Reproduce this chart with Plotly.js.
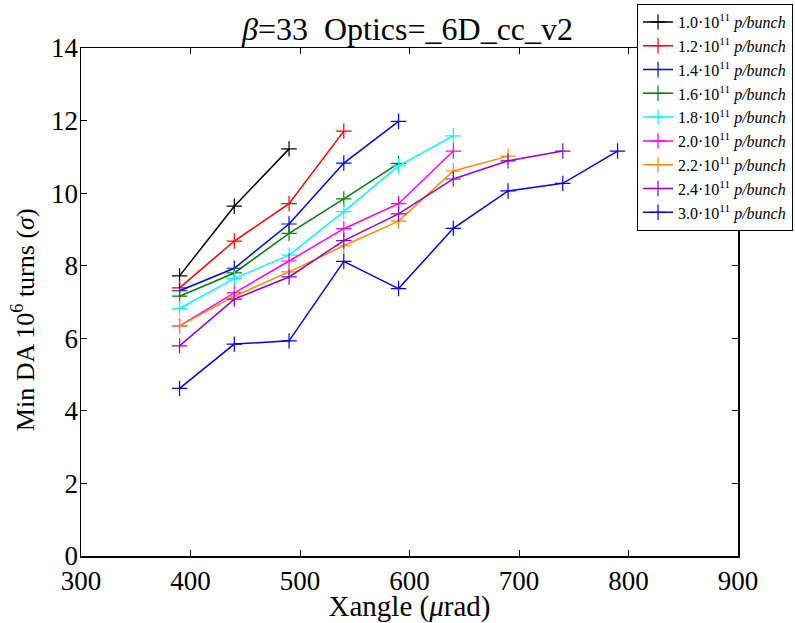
<!DOCTYPE html>
<html>
<head>
<meta charset="utf-8">
<script src="https://cdn.plot.ly/plotly-3.0.1.min.js"></script>
<style>html,body{margin:0;padding:0;background:#fff;} #chart{width:795px;height:623px;}</style>
</head>
<body>
<div id="chart"></div>
<script>
// x angle values (µrad)
const xangle = [390, 440, 490, 540, 590, 640, 690, 740, 790];
// bunch intensities (legend labels)
const intensities = ["1.0", "1.2", "1.4", "1.6", "1.8", "2.0", "2.2", "2.4", "3.0"];
// Min DA for each intensity
const da10 = [7.72, 9.64, 11.22];
const da12 = [7.39, 8.68, 9.71, 11.71];
const da14 = [7.31, 7.93, 9.15, 10.83, 11.98];
const da16 = [7.16, 7.80, 8.89, 9.84, 10.82];
const da18 = [6.82, 7.65, 8.29, 9.49, 10.75, 11.58];
const da20 = [6.34, 7.25, 8.13, 9.02, 9.71, 11.16];
const da22 = [6.34, 7.16, 7.83, 8.55, 9.23, 10.61, 11.02];
const da24 = [5.79, 7.08, 7.69, 8.69, 9.43, 10.39, 10.89, 11.16];
const da30 = [4.62, 5.84, 5.93, 8.12, 7.37, 9.03, 10.06, 10.27, 11.16];
const xTicks = [300, 400, 500, 600, 700, 800, 900];
const yTicks = [0, 2, 4, 6, 8, 10, 12, 14];

const series = [da10, da12, da14, da16, da18, da20, da22, da24, da30];
const colors = ["#000000", "#ff0000", "#0000ff", "#008000", "#00ffff", "#ff00ff", "#ff8c00", "#9400d3", "#0000ff"];

const traces = series.map((ys, i) => ({
  x: xangle.slice(0, ys.length),
  y: ys,
  type: "scatter",
  mode: "lines+markers",
  name: intensities[i] + "·10<sup>11</sup> <i>p/bunch</i>",
  line: {color: colors[i], width: 1.5},
  marker: {symbol: "cross-thin", size: 11, color: colors[i], line: {color: colors[i], width: 1.2}}
}));

const serif = "Liberation Serif, Times New Roman, serif";
const axisCommon = {
  showline: true, linecolor: "#000", linewidth: 1.5, mirror: "ticks",
  ticks: "inside", ticklen: 6, tickwidth: 1, tickcolor: "#000",
  showgrid: false, zeroline: false,
  tickfont: {family: serif, size: 27, color: "#000"}
};

const layout = {
  width: 795, height: 623,
  paper_bgcolor: "#fff", plot_bgcolor: "#fff",
  margin: {l: 81, r: 57, t: 48, b: 67, autoexpand: false},
  font: {family: serif, color: "#000"},
  title: {
    text: "<i>β</i>=33\u00a0\u00a0Optics=_6D_cc_v2",
    font: {family: serif, size: 32, color: "#000"},
    x: 0.497, xanchor: "center", xref: "paper",
    y: 0.953, yanchor: "middle", yref: "container"
  },
  xaxis: Object.assign({}, axisCommon, {
    range: [300, 900], tickvals: xTicks, ticktext: xTicks.map(String),
    title: {text: "Xangle (<i>μ</i>rad)", font: {family: serif, size: 29, color: "#000"}, standoff: 2}
  }),
  yaxis: Object.assign({}, axisCommon, {
    range: [0, 14], tickvals: yTicks, ticktext: yTicks.map(String),
    ticklabelstandoff: -4
  }),
  annotations: [{
    text: "Min DA 10<sup>6</sup> turns (<i>σ</i>)",
    font: {family: serif, size: 26, color: "#000"},
    textangle: -90, showarrow: false,
    xref: "paper", yref: "paper", x: -0.088, y: 0.5, yshift: -18,
    xanchor: "center", yanchor: "middle"
  }],
  showlegend: true,
  legend: {
    x: 0.846, xanchor: "left", y: 1.087, yanchor: "top",
    bgcolor: "#fff", bordercolor: "#000", borderwidth: 1.2,
    font: {family: serif, size: 16, color: "#000"},
    itemwidth: 30,
    tracegroupgap: 0
  }
};

Plotly.newPlot("chart", traces, layout, {displayModeBar: false, staticPlot: true});
</script>
</body>
</html>
